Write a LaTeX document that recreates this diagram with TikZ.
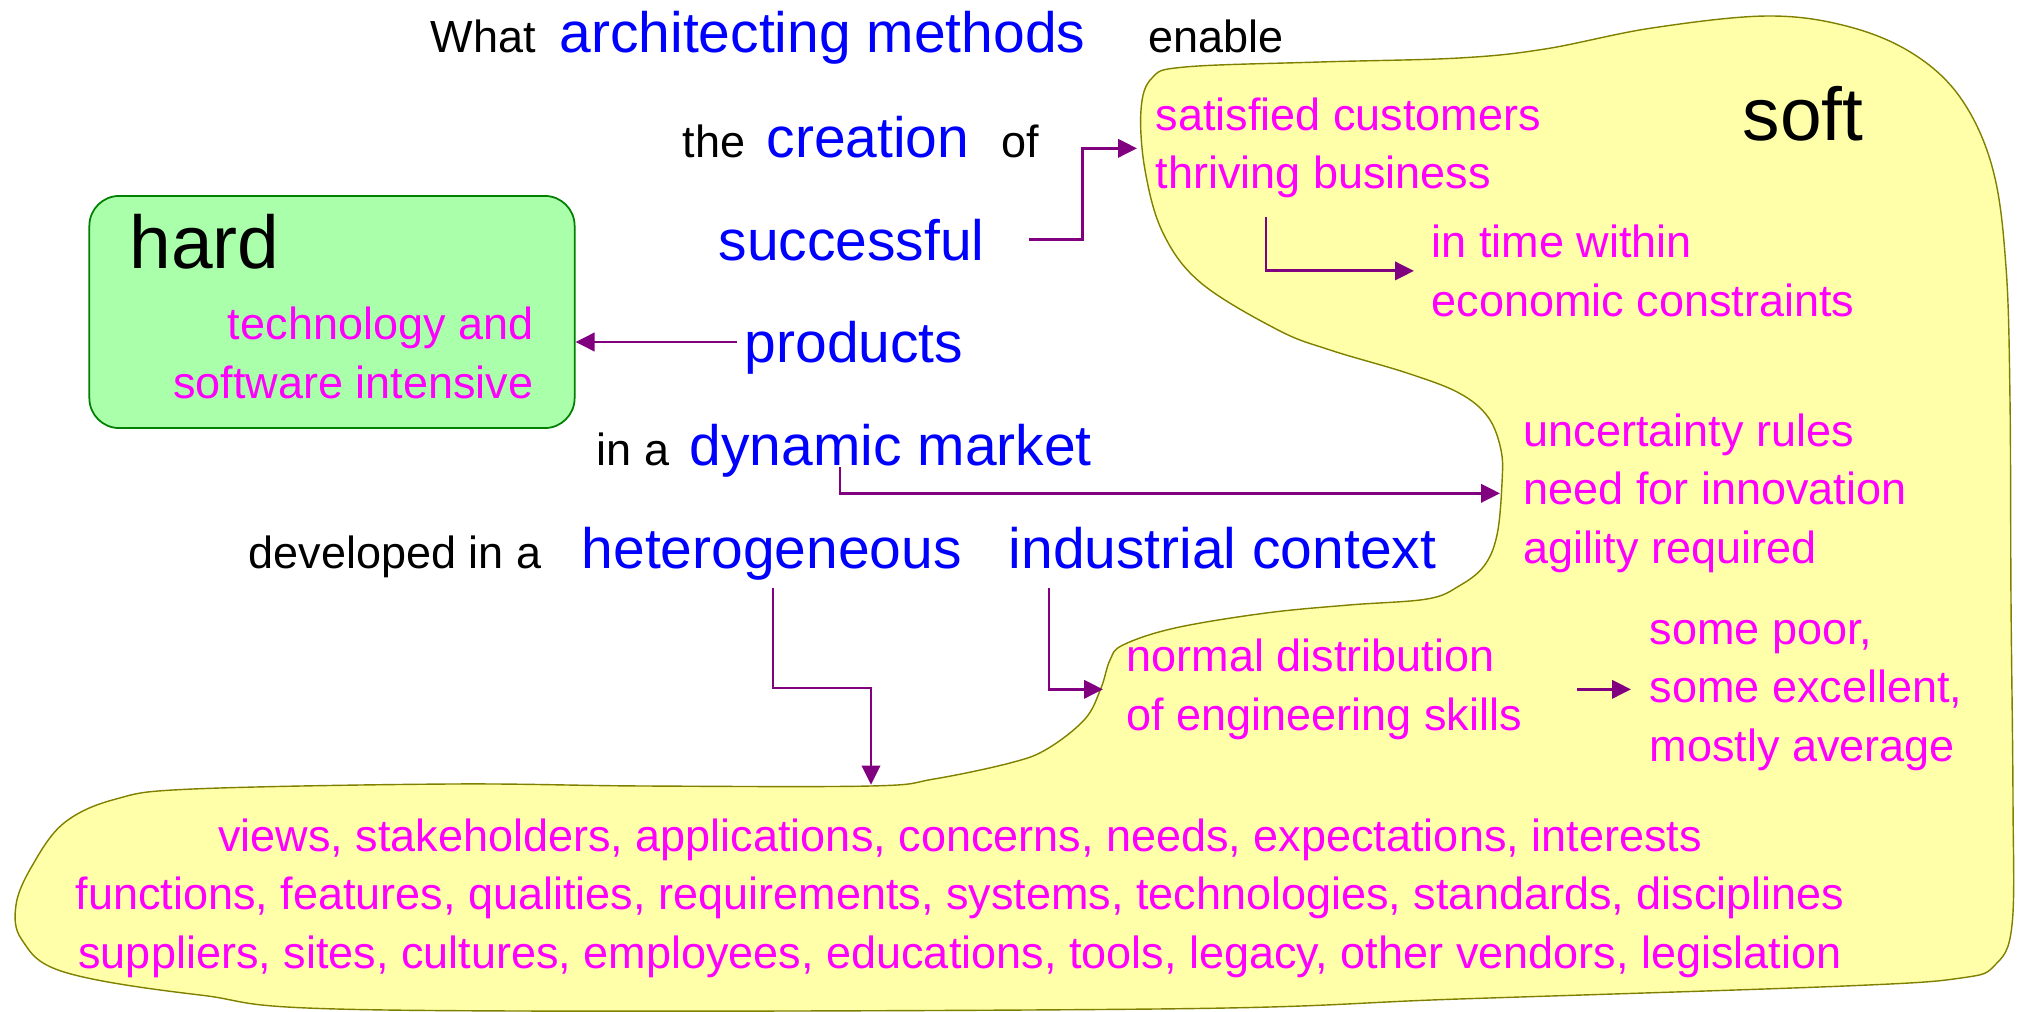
\documentclass[tikz,border=0pt]{standalone}
\usepackage{fontspec}
\setmainfont{Liberation Sans}
\usepackage{tikz}
\usetikzlibrary{arrows.meta,calc}
\usetikzlibrary{positioning}
\definecolor{softyellow}{RGB}{255,255,170}
\definecolor{softedge}{RGB}{128,128,0}
\definecolor{hardgreen}{RGB}{170,255,170}
\definecolor{hardedge}{RGB}{0,128,0}
\definecolor{keyblue}{RGB}{0,0,255}
\definecolor{notemagenta}{RGB}{255,0,255}
\definecolor{arrowpurple}{RGB}{128,0,128}
\tikzset{every picture/.style={x=0.01cm, y=-0.01cm, >={Triangle[length=5.4pt,width=5.2pt]}}}
\tikzstyle{to}       = [->, line width=0.8pt, arrowpurple]
\tikzstyle{plain}    = [inner sep=0pt, anchor=base west, font=\fontsize{12.8}{16.5}\selectfont]
\tikzstyle{key}      = [plain, text=keyblue, font=\fontsize{16.2}{20}\selectfont]
\tikzstyle{note}     = [plain, text=notemagenta, align=left]
\tikzstyle{big}      = [plain, font=\fontsize{21.3}{26}\selectfont]
\tikzstyle{softarea} = [fill=softyellow, draw=softedge, line width=0.4pt]
\tikzstyle{hardbox}  = [fill=hardgreen, draw=hardedge, line width=0.5pt, rounded corners=8.5pt,
                        minimum width=4.85cm, minimum height=2.32cm, inner sep=0pt]

\begin{document}
\begin{tikzpicture}
	\useasboundingbox (0,0) rectangle (2017,1012);

	% soft
	\draw[softarea] plot[smooth cycle, tension=0.6] coordinates {
		(1141,110) (1152,78) (1185,67) (1320,62) (1459,58) (1545,49) (1652,28)
		(1768,16) (1850,27) (1915,55) (1962,100) (1993,170) (2006,267) (2010,400)
		(2011,600) (2013,800) (2012,925) (1995,965) (1961,978) (1845,986)
		(1459,999) (1156,1009) (386,1010) (200,995) (64,972) (22,940) (16,905)
		(32,866) (64,823) (116,799) (193,789) (451,784) (644,786) (871,786)
		(934,779) (1010,763) (1047,749) (1085,719) (1101,688) (1110,660)
		(1123,645) (1175,628) (1266,613) (1349,605) (1427,599) (1459,586)
		(1484,566) (1497,535) (1502,483) (1501,450) (1488,417) (1459,393)
		(1407,373) (1330,350) (1278,330) (1201,283) (1163,233) (1145,170)};
	\node[big] (soft) at (1742,140) {soft};

	% hard
	\node[hardbox] (hardbox) at (332,312) {};
	\node[big] (hard) at (129,268) {hard};
	\node[note, anchor=base east, align=right] (tech) at (534,398) {technology and\\software intensive};

	% question
	\node[plain] (what) at (430,53) {What};
	\node[key] (methods) at (559,53) {architecting methods};
	\node[plain] (enable) at (1148,53) {enable};
	\node[plain] (the) at (682,157) {the};
	\node[key] (creation) at (766,157) {creation};
	\node[plain] (of) at (1001,157) {of};
	\node[key] (successful) at (718,260) {successful};
	\node[key] (products) at (744,362) {products};
	\node[plain] (ina) at (596,465) {in a};
	\node[key] (dynamic) at (689,465) {dynamic market};
	\node[plain] (developed) at (248,568) {developed in a};
	\node[key] (hetero) at (581,568) {heterogeneous};
	\node[key] (industrial) at (1008,568) {industrial context};

	% notes
	\node[note] (satisfied) at (1155,189) {satisfied customers\\thriving business};
	\node[note] (intime) at (1431,316) {in time within\\economic constraints};
	\node[note] (uncertainty) at (1523,563) {uncertainty rules\\need for innovation\\agility required};
	\node[note] (normal) at (1126,730) {normal distribution\\of engineering skills};
	\node[note] (somepoor) at (1649,761) {some poor,\\some excellent,\\mostly average};
	\node[note, anchor=base, align=center] (bottom) at (960,968)
		{views, stakeholders, applications, concerns, needs, expectations, interests\\
		 functions, features, qualities, requirements, systems, technologies, standards, disciplines\\
		 suppliers, sites, cultures, employees, educations, tools, legacy, other vendors, legislation};

	% arrows
	\coordinate (pstart) at ($(products.base west)+(-7,-20)$);
	\draw[to] (pstart) -- (hardbox.east |- pstart);
	\draw[to] ($(successful.east)+(44,0)$) -- ++(53,0) |- ($(satisfied.west)+(-18,0)$);
	\draw[to] ($(satisfied.south west)+(111,18)$) |- ($(intime.west)+(-17,0)$);
	\draw[to] ($(dynamic.base west)+(151,2)$) |- ($(uncertainty.west)+(-23,0)$);
	\draw[to] ($(hetero.base west)+(192,20)$) -- ++(0,100) -| ($(bottom.north)+(-89,-34)$);
	\draw[to] ($(industrial.base west)+(41,20)$) |- ($(normal.west)+(-23,0)$);
	\coordinate (nstart) at ($(normal.east)+(54,0)$);
	\draw[to] (nstart) -- ($(somepoor.west |- nstart)+(-18,0)$);
\end{tikzpicture}
\end{document}
